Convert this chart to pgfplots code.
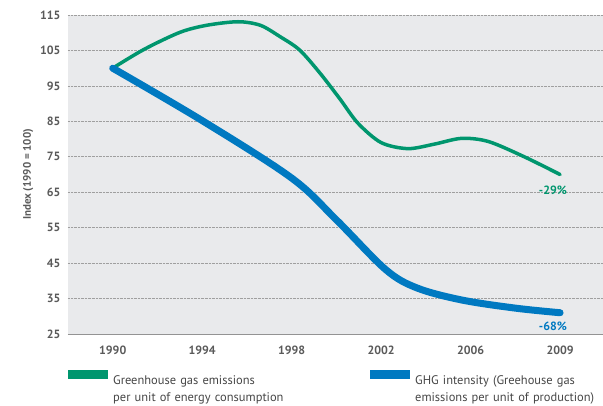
\documentclass[border=0pt]{standalone}
\usepackage{fontspec}
\setmainfont{PT Sans}
\usepackage{pgfplots}
\pgfplotsset{compat=1.18}
\definecolor{ggreen}{RGB}{0,150,110}
\definecolor{gblue}{RGB}{0,121,193}
\definecolor{bggray}{RGB}{233,234,236}
\definecolor{tickgray}{RGB}{90,90,90}
\definecolor{txtgray}{RGB}{70,70,70}
\begin{document}
\begin{tikzpicture}
\begin{axis}[
  scale only axis,
  width=535bp, height=319bp,
  xmin=-0.5, xmax=5.48,
  ymin=25, ymax=115,
  ytick={25,35,45,55,65,75,85,95,105,115},
  xtick={0,1,2,3,4,5},
  xticklabels={1990,1994,1998,2002,2006,2009},
  axis background/.style={fill=bggray},
  axis x line*=bottom, axis y line*=left,
  y axis line style={draw=none},
  x axis line style={draw=gray!85, line width=1pt, -},
  tick style={draw=none},
  ymajorgrids,
  grid style={densely dotted, gray!75, line width=0.6pt},
  /pgf/number format/assume math mode=true,
  ticklabel style={font=\fontsize{12}{14}\selectfont\bfseries, text=tickgray},
  xticklabel style={yshift=-8bp},
  yticklabel style={xshift=-4bp},
  ylabel={Index (1990 = 100)},
  ylabel style={font=\fontsize{11}{13}\selectfont\bfseries, text=tickgray},
  legend columns=2,
  legend style={at={(axis description cs:0,0)}, anchor=north west, yshift=-36bp,
    draw=none, fill=none, inner sep=0pt,
    font=\fontsize{12.5}{17}\selectfont, text=txtgray,
    nodes={inner sep=0pt, text width=250bp, align=left},
    /tikz/every odd column/.append style={column sep=5bp},
    /tikz/every even column/.append style={column sep=7bp}},
  legend cell align=left,
  legend image code/.code={\fill[#1, draw=none] (0bp,2bp) rectangle (40bp,11bp);},
]
\addplot[ggreen, line width=3.5bp, smooth, tension=0.5, line cap=round] coordinates {
  (0,100) (0.35,105.3) (0.75,110.1) (1.05,112.1) (1.4,113.1) (1.65,112.1) (1.87,108.9)
  (2.09,105.1) (2.32,98.5) (2.54,91.3) (2.74,84.5) (3,79) (3.3,77.3) (3.6,78.6)
  (3.9,80.2) (4.2,79.3) (4.6,75) (5,70)
};
\addlegendentry{Greenhouse gas emissions\\per unit of energy consumption}
\addplot[gblue, line width=7bp, smooth, tension=0.55, line cap=round] coordinates {
  (0,100) (1,85.2) (2,69) (2.5,57.2) (3.05,43.2) (3.4,38) (3.9,34.6) (4.5,32.3) (5,31)
};
\addlegendentry{GHG intensity (Greehouse gas\\emissions per unit of production)}
\node[font=\fontsize{12}{14}\selectfont\bfseries, text=ggreen] at (axis cs:4.92,65.6) {-29\%};
\node[font=\fontsize{12}{14}\selectfont\bfseries, text=gblue] at (axis cs:4.92,27.3) {-68\%};
\end{axis}
\pgfresetboundingbox
\path[use as bounding box] (-68bp,-72bp) rectangle (535bp,334bp);
\end{tikzpicture}
\end{document}
